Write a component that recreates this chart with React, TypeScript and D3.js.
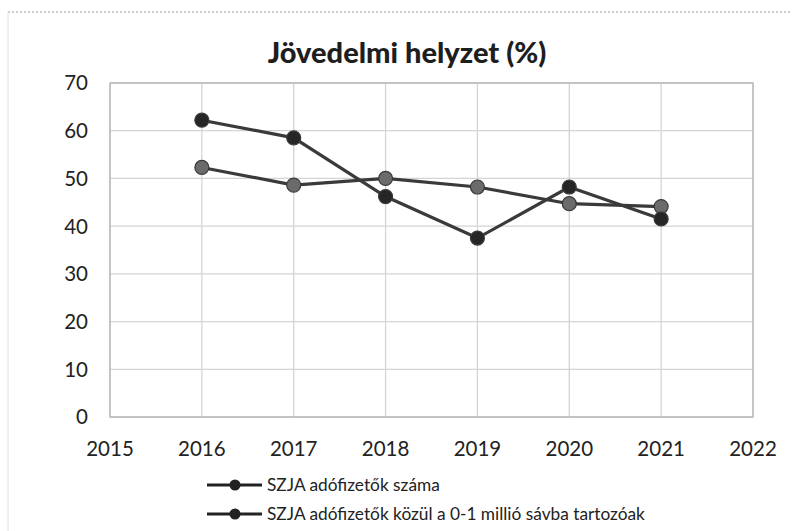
import React from "react";
import * as d3 from "d3";

const years = [2016, 2017, 2018, 2019, 2020, 2021];
const szjaSzama = [52.3, 48.6, 50.0, 48.2, 44.7, 44.1];
const savba01 = [62.2, 58.5, 46.2, 37.5, 48.2, 41.5];
const yTicks = [0, 10, 20, 30, 40, 50, 60, 70];
const xTicks = [2015, 2016, 2017, 2018, 2019, 2020, 2021, 2022];

const series = [
  { name: "SZJA adófizetők száma", values: szjaSzama, marker: "#6b6b6b" },
  { name: "SZJA adófizetők közül a 0-1 millió sávba tartozóak", values: savba01, marker: "#262626" },
];

const W = 797;
const H = 531;
const font = "Lato, 'Open Sans', sans-serif";

const App = () => {
  const x = d3.scaleLinear().domain([2015, 2022]).range([110, 753]);
  const y = d3.scaleLinear().domain([0, 70]).range([417, 83]);

  const line = d3
    .line<number>()
    .x((d, i) => x(years[i]))
    .y((d) => y(d));

  return (
    <svg
      width={W}
      height={H}
      style={{ position: "absolute", left: 0, top: 0, background: "#fff" }}
    >
      {/* scan border remnants */}
      <line x1={8} x2={790} y1={12} y2={12} stroke="#9a9a9a" strokeDasharray="2,2" strokeWidth={1} />
      <line x1={8} x2={8} y1={12} y2={531} stroke="#e0e0e0" strokeWidth={1} />

      <text
        x={407}
        y={63}
        textAnchor="middle"
        fontFamily={font}
        fontWeight={900}
        fontSize={29}
        fill="#1e1e1e"
      >
        Jövedelmi helyzet (%)
      </text>

      {/* grid */}
      {yTicks.map((t) => (
        <line key={"gy" + t} x1={x(2015)} x2={x(2022)} y1={y(t)} y2={y(t)} stroke="#d4d4d4" strokeWidth={1.3} />
      ))}
      {xTicks.map((t) => (
        <line key={"gx" + t} x1={x(t)} x2={x(t)} y1={y(0)} y2={y(70)} stroke="#d4d4d4" strokeWidth={1.3} />
      ))}
      <rect x={x(2015)} y={y(70)} width={x(2022) - x(2015)} height={y(0) - y(70)} fill="none" stroke="#b5b5b5" strokeWidth={1.3} />

      {/* tick labels */}
      {yTicks.map((t) => (
        <text key={"ly" + t} x={88} y={y(t)} dy="0.36em" textAnchor="end" fontFamily={font} fontSize={20.5} fill="#222">
          {t}
        </text>
      ))}
      {xTicks.map((t) => (
        <text key={"lx" + t} x={x(t)} y={456} textAnchor="middle" fontFamily={font} fontSize={20.5} fill="#222">
          {t}
        </text>
      ))}

      {/* series */}
      {series.map((s) => (
        <g key={s.name}>
          <path d={line(s.values) || ""} fill="none" stroke="#3a3a3a" strokeWidth={3.2} />
          {s.values.map((v, i) => (
            <circle key={i} cx={x(years[i])} cy={y(v)} r={7} fill={s.marker} stroke="#3a3a3a" strokeWidth={1.2} />
          ))}
        </g>
      ))}

      {/* legend */}
      {series.map((s, i) => {
        const ly = 485 + i * 29;
        return (
          <g key={"lg" + i}>
            <line x1={207} x2={262} y1={ly} y2={ly} stroke="#222" strokeWidth={3} />
            <circle cx={235} cy={ly} r={5.5} fill="#222" />
            <text x={267} y={ly} dy="0.35em" fontFamily={font} fontSize={17.3} fill="#222">
              {s.name}
            </text>
          </g>
        );
      })}
    </svg>
  );
};

export default App;
